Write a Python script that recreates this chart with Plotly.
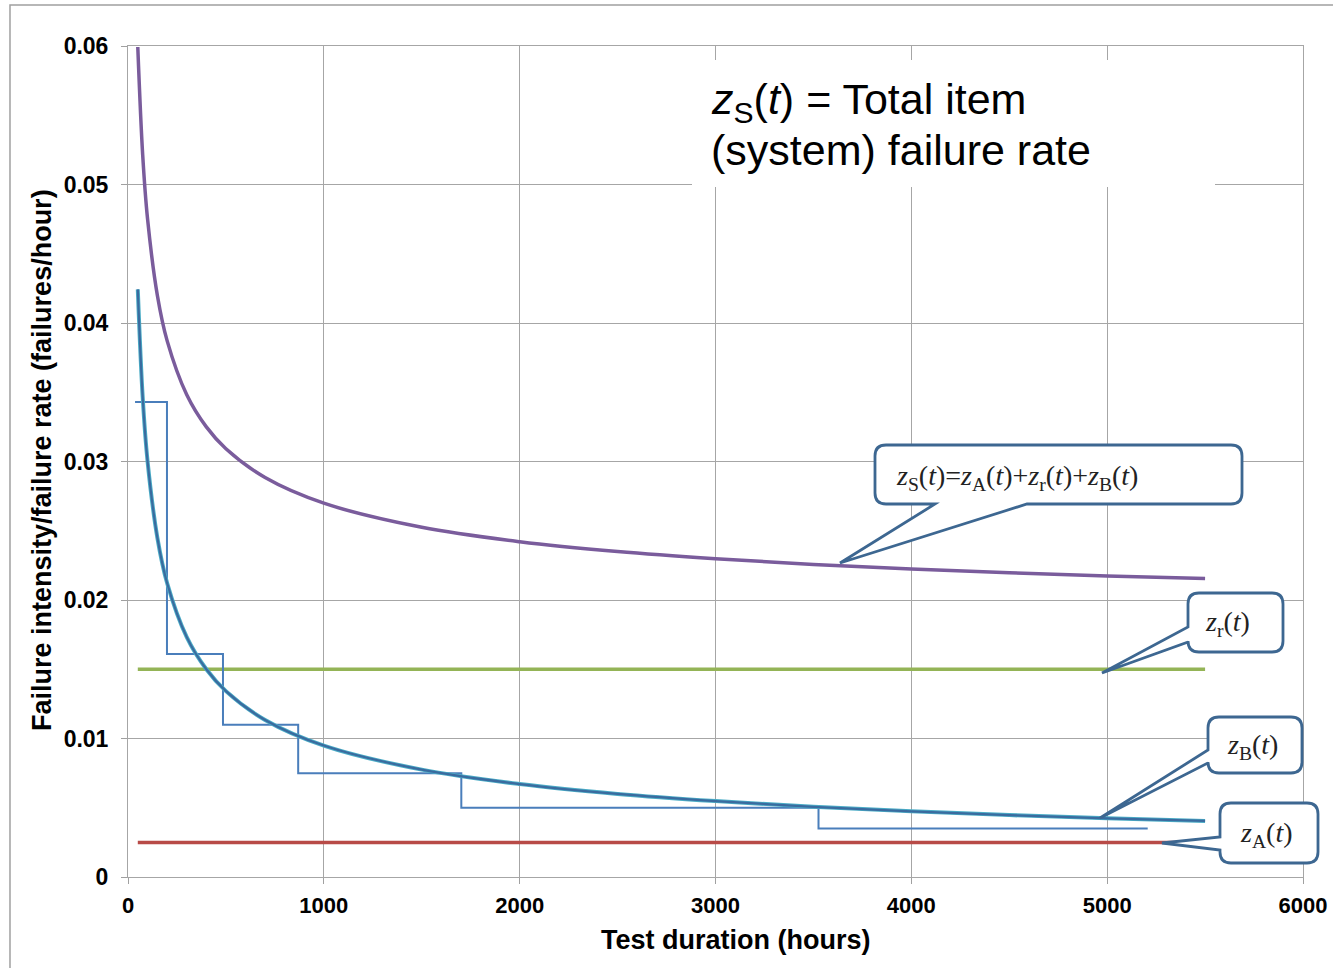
import plotly.graph_objects as go

# ---------------- data ----------------
t_curve = [50, 75, 100, 150, 200, 300, 400, 500, 700, 1000, 1500, 2000,
           2500, 3000, 3500, 4000, 4500, 5000, 5500]
z_B = [0.04243, 0.03464, 0.03000, 0.02449, 0.02121, 0.01732, 0.01500,
       0.01342, 0.01134, 0.00949, 0.00775, 0.00671, 0.00600, 0.00548,
       0.00507, 0.00474, 0.00447, 0.00424, 0.00405]
z_S = [0.05993, 0.05214, 0.04750, 0.04199, 0.03871, 0.03482, 0.03250,
       0.03092, 0.02884, 0.02699, 0.02525, 0.02421, 0.02350, 0.02298,
       0.02257, 0.02224, 0.02197, 0.02174, 0.02155]

t_const = [50, 5500]
z_r = [0.015, 0.015]
z_A = [0.0025, 0.0025]

t_steps = [36, 199, 485, 869, 1702, 3526, 5207]
z_steps = [0.0343, 0.0161, 0.0110, 0.0075, 0.0050, 0.0035, 0.0035]

x_ticks = [0, 1000, 2000, 3000, 4000, 5000, 6000]
y_ticks = [0, 0.01, 0.02, 0.03, 0.04, 0.05, 0.06]
y_ticktext = ["0", "0.01", "0.02", "0.03", "0.04", "0.05", "0.06"]

# ---------------- layout geometry (pixels) ----------------
W, H = 1333, 968
L, R, T, B = 128, 1303, 46, 877


def fx(x):
    return (x - L) / (R - L)


def fy(y):
    return (B - y) / (B - T)


def P(x, y):
    return f"{fx(x):.5f},{fy(y):.5f}"


def callout(x0, y0, x1, y1, side, b1, b2, tip, r=11):
    tx, ty = tip
    parts = [f"M{P(x0 + r, y0)}", f"L{P(x1 - r, y0)}",
             f"Q{P(x1, y0)} {P(x1, y0 + r)}", f"L{P(x1, y1 - r)}",
             f"Q{P(x1, y1)} {P(x1 - r, y1)}"]
    if side == "bottom":
        parts += [f"L{P(b2, y1)}", f"L{P(tx, ty)}", f"L{P(b1, y1)}",
                  f"L{P(x0 + r, y1)}", f"Q{P(x0, y1)} {P(x0, y1 - r)}",
                  f"L{P(x0, y0 + r)}", f"Q{P(x0, y0)} {P(x0 + r, y0)}", "Z"]
    else:
        parts += [f"L{P(x0 + r, y1)}", f"Q{P(x0, y1)} {P(x0, y1 - r)}",
                  f"L{P(x0, b2)}", f"L{P(tx, ty)}", f"L{P(x0, b1)}",
                  f"L{P(x0, y0 + r)}", f"Q{P(x0, y0)} {P(x0 + r, y0)}", "Z"]
    return dict(type="path", xref="paper", yref="paper", path=" ".join(parts),
                fillcolor="white", line=dict(color="#3D6791", width=2.8),
                layer="above")


fig = go.Figure()

fig.add_trace(go.Scatter(x=t_curve, y=z_S, mode="lines", line_shape="spline",
                         line=dict(color="#7A5C9C", width=3.5), showlegend=False))
fig.add_trace(go.Scatter(x=t_const, y=z_r, mode="lines",
                         line=dict(color="#94B456", width=3.5), showlegend=False))
fig.add_trace(go.Scatter(x=t_const, y=z_A, mode="lines",
                         line=dict(color="#B84B47", width=3.5), showlegend=False))
fig.add_trace(go.Scatter(x=t_steps, y=z_steps, mode="lines", line_shape="hv",
                         line=dict(color="#4A7EBB", width=2), showlegend=False))
fig.add_trace(go.Scatter(x=t_curve, y=z_B, mode="lines", line_shape="spline",
                         line=dict(color="#4BACC6", width=4), showlegend=False))
fig.add_trace(go.Scatter(x=t_curve, y=z_B, mode="lines", line_shape="spline",
                         line=dict(color="#3A6B9F", width=2.2), showlegend=False))

shapes = [
    # outer frame (left and top)
    dict(type="path", xref="paper", yref="paper",
         path=f"M{P(10, H)} L{P(10, 5)} L{P(W, 5)}",
         line=dict(color="#A0A0A0", width=1.5), layer="above"),
    # white text box
    dict(type="rect", xref="paper", yref="paper",
         x0=fx(692), x1=fx(1215), y0=fy(60), y1=fy(187),
         fillcolor="white", line=dict(width=0), layer="above"),
    callout(875, 445, 1242, 504, "bottom", 935, 1027, (840, 563)),
    callout(1188, 593, 1283, 652, "left", 627, 642, (1102, 673)),
    callout(1208, 717, 1302, 773, "left", 750, 763, (1100, 818)),
    callout(1220, 803, 1318, 863, "left", 837, 850, (1162, 843)),
]

serif = dict(family="Liberation Serif, Times New Roman, serif", size=28, color="#222222")
sans_big = dict(family="Liberation Sans, Arial, sans-serif", size=43, color="black")
annotations = [
    dict(xref="paper", yref="paper", x=fx(709), y=fy(102), xanchor="left",
         yanchor="middle", align="left", showarrow=False, font=sans_big,
         text="<i>z</i><sub>S</sub>(<i>t</i>) = Total item"),
    dict(xref="paper", yref="paper", x=fx(709), y=fy(150), xanchor="left",
         yanchor="middle", align="left", showarrow=False, font=sans_big,
         text="(system) failure rate"),
    dict(xref="paper", yref="paper", x=fx(1017), y=fy(477), xanchor="center",
         yanchor="middle", showarrow=False, font=serif,
         text="<i>z</i><sub>S</sub>(<i>t</i>)=<i>z</i><sub>A</sub>(<i>t</i>)+<i>z</i><sub>r</sub>(<i>t</i>)+<i>z</i><sub>B</sub>(<i>t</i>)"),
    dict(xref="paper", yref="paper", x=fx(1227), y=fy(623), xanchor="center",
         yanchor="middle", showarrow=False, font=serif,
         text="<i>z</i><sub>r</sub>(<i>t</i>)"),
    dict(xref="paper", yref="paper", x=fx(1252), y=fy(746), xanchor="center",
         yanchor="middle", showarrow=False, font=serif,
         text="<i>z</i><sub>B</sub>(<i>t</i>)"),
    dict(xref="paper", yref="paper", x=fx(1266), y=fy(834), xanchor="center",
         yanchor="middle", showarrow=False, font=serif,
         text="<i>z</i><sub>A</sub>(<i>t</i>)"),
    dict(xref="paper", yref="paper", x=fx(736), y=fy(940), xanchor="center",
         yanchor="middle", showarrow=False,
         text="<b>Test duration (hours)</b>",
         font=dict(family="Liberation Sans, Arial, sans-serif", size=27, color="black")),
    dict(xref="paper", yref="paper", x=fx(42), y=fy(460), xanchor="center",
         yanchor="middle", showarrow=False, textangle=-90,
         text="<b>Failure intensity/failure rate (failures/hour)</b>",
         font=dict(family="Liberation Sans, Arial, sans-serif", size=27, color="black")),
]

xtickfont = dict(family="Liberation Sans, Arial, sans-serif", size=22, color="black",
                 weight="bold")
ytickfont = dict(family="Liberation Sans, Arial, sans-serif", size=23, color="black",
                 weight="bold")

fig.update_layout(
    width=W, height=H,
    margin=dict(l=L, r=W - R, t=T, b=H - B, pad=0),
    paper_bgcolor="white", plot_bgcolor="white",
    shapes=shapes, annotations=annotations,
    xaxis=dict(range=[0, 6000], tickvals=x_ticks, showgrid=True,
               gridcolor="#A6A6A6", gridwidth=1, zeroline=False,
               showline=True, mirror=True, linecolor="#A6A6A6", linewidth=1,
               ticks="outside", ticklen=6, tickcolor="#A0A0A0",
               tickfont=xtickfont, ticklabelstandoff=3, automargin=False),
    yaxis=dict(range=[0, 0.06], tickvals=y_ticks, ticktext=y_ticktext,
               showgrid=True, gridcolor="#A6A6A6", gridwidth=1, zeroline=False,
               showline=True, mirror=True, linecolor="#A6A6A6", linewidth=1,
               ticks="outside", ticklen=6, tickcolor="#A0A0A0",
               tickfont=ytickfont, ticklabelstandoff=8, automargin=False),
)

fig.write_html("out.html")
